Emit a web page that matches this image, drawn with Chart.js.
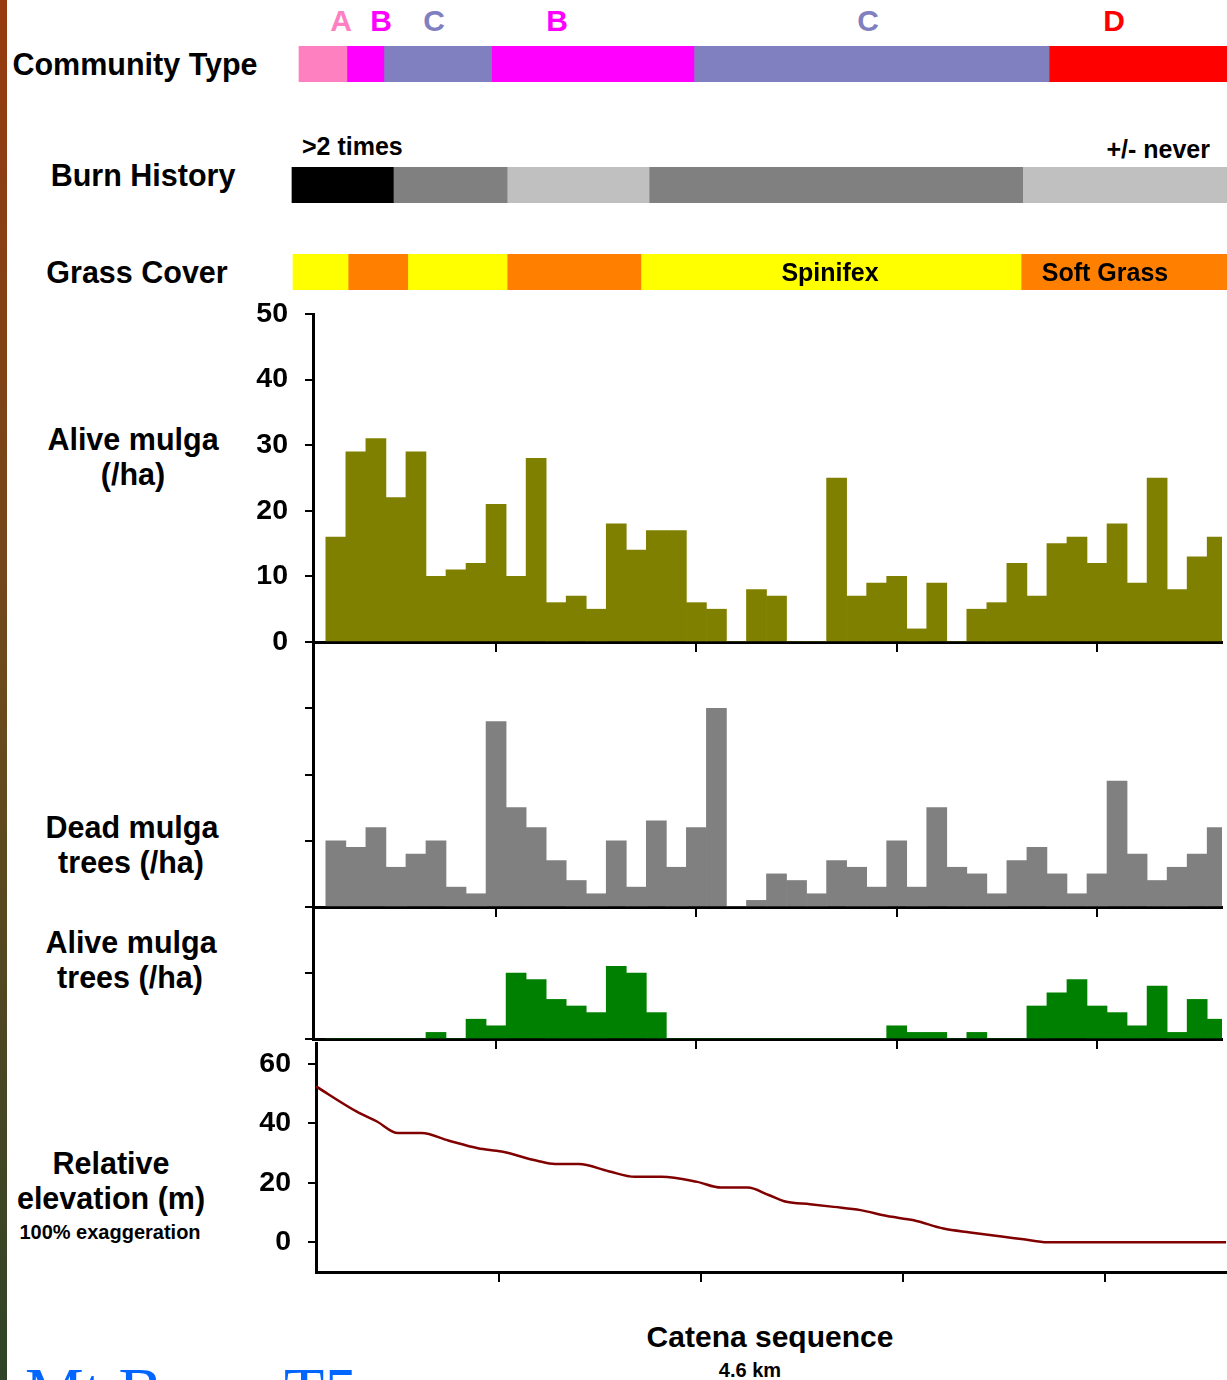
<!DOCTYPE html>
<html>
<head>
<meta charset="utf-8">
<title>Catena sequence</title>
<script src="https://cdn.jsdelivr.net/npm/chart.js@4.4.1/dist/chart.umd.min.js"></script>
<style>
    body { margin: 0; background: #fff; }
    #page {
        position: relative; width: 1227px; height: 1380px; overflow: hidden;
        font-family: 'Liberation Sans', Arial, sans-serif; font-weight: bold; color: #000;
    }
    #page canvas { position: absolute; left: 0; }
    .edge {
        position: absolute; left: 0; top: 0; width: 7px; height: 1380px;
        background: linear-gradient(#973a0f, #6b4a1c 50%, #2e4427);
    }
    .t { position: absolute; white-space: nowrap; line-height: 1; transform: translate(-50%, -50%); }
    .l { transform: translate(0, -50%); }
    .r { transform: translate(-100%, -50%); }
    .site {
        position: absolute; left: 25px; top: 1358px; line-height: 1; white-space: nowrap;
        font-family: 'Liberation Serif', 'Times New Roman', serif; font-weight: normal;
        font-size: 66px; color: #0066ff;
    }
</style>
</head>
<body>
<div id="page">
    <div class="edge"></div>

    <div class="t" style="left:341px;top:21px;font-size:30px;color:#ff80c0">A</div>
    <div class="t" style="left:381px;top:21px;font-size:30px;color:#ff00ff">B</div>
    <div class="t" style="left:434px;top:21px;font-size:30px;color:#8080c0">C</div>
    <div class="t" style="left:557px;top:21px;font-size:30px;color:#ff00ff">B</div>
    <div class="t" style="left:868px;top:21px;font-size:30px;color:#8080c0">C</div>
    <div class="t" style="left:1114px;top:21px;font-size:30px;color:#ff0000">D</div>

    <div class="t" style="left:135px;top:64px;font-size:30.5px">Community Type</div>
    <div class="t" style="left:143px;top:175px;font-size:30.5px">Burn History</div>
    <div class="t" style="left:137px;top:272px;font-size:30.5px">Grass Cover</div>
    <div class="t l" style="left:302px;top:146px;font-size:25px">&gt;2 times</div>
    <div class="t r" style="left:1210px;top:149px;font-size:25px">+/- never</div>

    <canvas id="community" width="1227" height="36" style="top:46px"></canvas>
    <canvas id="burn" width="1227" height="36" style="top:167px"></canvas>
    <canvas id="grass" width="1227" height="36" style="top:254px"></canvas>

    <div class="t" style="left:830px;top:272px;font-size:25px">Spinifex</div>
    <div class="t" style="left:1105px;top:272px;font-size:25px">Soft Grass</div>

    <div class="t" style="left:133px;top:439px;font-size:30.5px">Alive mulga</div>
    <div class="t" style="left:133px;top:474px;font-size:30.5px">(/ha)</div>
    <div class="t" style="left:132px;top:827px;font-size:30.5px">Dead mulga</div>
    <div class="t" style="left:131px;top:862px;font-size:30.5px">trees (/ha)</div>
    <div class="t" style="left:131px;top:942px;font-size:30.5px">Alive mulga</div>
    <div class="t" style="left:130px;top:977px;font-size:30.5px">trees (/ha)</div>
    <div class="t" style="left:111px;top:1163px;font-size:30.5px">Relative</div>
    <div class="t" style="left:111px;top:1198px;font-size:30.5px">elevation (m)</div>
    <div class="t" style="left:110px;top:1232px;font-size:20px">100% exaggeration</div>

    <canvas id="alive" width="1227" height="370" style="top:290px"></canvas>
    <canvas id="dead" width="1227" height="295" style="top:630px"></canvas>
    <canvas id="trees" width="1227" height="162" style="top:895px"></canvas>
    <canvas id="elev" width="1227" height="270" style="top:1020px"></canvas>

    <div class="t" style="left:770px;top:1337px;font-size:30px">Catena sequence</div>
    <div class="t" style="left:750px;top:1370px;font-size:20px">4.6 km</div>
    <div class="site">Mt Barry T5</div>
</div>

<script>
// band segments, edges in km along the transect
const communityEdges = [0.016, 0.255, 0.44, 0.977, 1.988, 3.761, 4.65]
const communityColors = ['#ff80c0', '#ff00ff', '#8080c0', '#ff00ff', '#8080c0', '#ff0000']
const burnEdges = [-0.019, 0.487, 1.055, 1.764, 3.629, 4.65]
const burnColors = ['#000000', '#808080', '#c0c0c0', '#808080', '#c0c0c0']
const grassEdges = [-0.014, 0.261, 0.559, 1.055, 1.723, 3.621, 4.65]
const grassColors = ['#ffff00', '#ff8000', '#ffff00', '#ff8000', '#ffff00', '#ff8000']

// plot centres (km)
const plotKm = [
    0.2, 0.3, 0.4, 0.5, 0.6, 0.7, 0.8, 0.9, 1.0, 1.1,
    1.2, 1.3, 1.4, 1.5, 1.6, 1.7, 1.8, 1.9, 2.0, 2.1,
    2.2, 2.3, 2.4, 2.5, 2.6, 2.7, 2.8, 2.9, 3.0, 3.1,
    3.2, 3.3, 3.4, 3.5, 3.6, 3.7, 3.8, 3.9, 4.0, 4.1,
    4.2, 4.3, 4.4, 4.5, 4.6,
]
const aliveMulga = [
    16, 29, 31, 22, 29, 10, 11, 12, 21, 10,
    28, 6, 7, 5, 18, 14, 17, 17, 6, 5,
    0, 8, 7, 0, 0, 25, 7, 9, 10, 2,
    9, 0, 5, 6, 12, 7, 15, 16, 12, 18,
    9, 25, 8, 13, 16,
]
const deadMulga = [
    10, 9, 12, 6, 8, 10, 3, 2, 28, 15,
    12, 7, 4, 2, 10, 3, 13, 6, 12, 30,
    0, 1, 5, 4, 2, 7, 6, 3, 10, 3,
    15, 6, 5, 2, 7, 9, 5, 2, 5, 19,
    8, 4, 6, 8, 12,
]
const aliveTrees = [
    0, 0, 0, 0, 0, 1, 0, 3, 2, 10,
    9, 6, 5, 4, 11, 10, 4, 0, 0, 0,
    0, 0, 0, 0, 0, 0, 0, 0, 2, 1,
    1, 0, 1, 0, 0, 5, 7, 9, 5, 4,
    2, 8, 1, 6, 3,
]

// relative elevation profile
const elevKm = [
    0.094, 0.294, 0.396, 0.5, 0.617, 0.749, 0.896, 1.013, 1.189, 1.277,
    1.395, 1.542, 1.673, 1.806, 1.982, 2.099, 2.232, 2.335, 2.423, 2.54,
    2.658, 2.79, 2.922, 3.054, 3.201, 3.333, 3.48, 3.598, 3.715, 4.6,
]
const elevM = [
    52.4, 44, 40.6, 36.7, 36.7, 34.2, 31.6, 30.5, 27.4, 26.3,
    26.3, 23.9, 22, 22, 20.3, 18.4, 18.4, 15.9, 13.6, 12.8,
    11.9, 10.8, 8.8, 7.4, 4.6, 3.3, 2.0, 1.0, 0, 0,
]

const kmTicks = [1, 2, 3, 4]

Chart.defaults.font.family = "'Liberation Sans', Arial, sans-serif"
Chart.defaults.color = '#000'

const baseOptions = {
    responsive: false,
    animation: false,
    events: [],
    plugins: { legend: { display: false }, tooltip: { enabled: false } },
}

// drop the label padding chart.js adds so the chart area sits where we put it
function noPad(s) {
    s.paddingTop = 0
    s.paddingBottom = 0
    s.paddingLeft = 0
    s.paddingRight = 0
}

function makeBand(id, edges, colors) {
    const datasets = colors.map(function (c, i) {
        return {
            data: [[edges[i], edges[i + 1]]],
            backgroundColor: c,
            borderWidth: 0,
            grouped: false,
            barPercentage: 1,
            categoryPercentage: 1,
        }
    })
    return new Chart(document.getElementById(id), {
        type: 'bar',
        data: { labels: [''], datasets: datasets },
        options: Object.assign({}, baseOptions, {
            indexAxis: 'y',
            layout: { padding: 0 },
            scales: {
                x: { type: 'linear', min: -1.4767, max: 4.6492, display: false },
                y: { display: false },
            },
        }),
    })
}

function yAxis(min, max, ticks, labels, width) {
    return {
        min: min,
        max: max,
        afterFit: function (s) {
            s.width = width
            noPad(s)
        },
        afterBuildTicks: function (s) { s.ticks = ticks.map(function (v) { return { value: v } }) },
        ticks: {
            display: labels,
            color: '#000',
            padding: 17,
            font: { size: 28.5, weight: 'bold' },
        },
        grid: { drawOnChartArea: false, drawTicks: true, tickLength: 8, color: '#000', lineWidth: 2 },
        border: { display: true, color: '#000', width: 3 },
    }
}

function xAxis(min, max) {
    return {
        type: 'linear',
        min: min,
        max: max,
        offset: false,
        afterFit: function (s) {
            s.height = 18
            noPad(s)
        },
        afterBuildTicks: function (s) { s.ticks = kmTicks.map(function (v) { return { value: v } }) },
        ticks: { display: false },
        grid: { offset: false, drawOnChartArea: false, drawTicks: true, tickLength: 10, color: '#000', lineWidth: 2 },
        border: { display: true, color: '#000', width: 3 },
    }
}

function makeBars(id, values, color, yMax, ticks, labels, padTop) {
    return new Chart(document.getElementById(id), {
        type: 'bar',
        data: {
            datasets: [
                {
                    data: values.map(function (v, i) { return { x: plotKm[i], y: v } }),
                    backgroundColor: color,
                    borderWidth: 0,
                    barPercentage: 1,
                    categoryPercentage: 1,
                },
            ],
        },
        options: Object.assign({}, baseOptions, {
            layout: { padding: { top: padTop, right: 5, left: 0, bottom: 0 } },
            scales: {
                x: xAxis(0.086, 4.624),
                y: yAxis(0, yMax, ticks, labels, 313),
            },
        }),
    })
}

makeBand('community', communityEdges, communityColors)
makeBand('burn', burnEdges, burnColors)
makeBand('grass', grassEdges, grassColors)

makeBars('alive', aliveMulga, '#808000', 50, [0, 10, 20, 30, 40, 50], true, 24)
makeBars('dead', deadMulga, '#808080', 40, [0, 10, 20, 30], false, 12)
makeBars('trees', aliveTrees, '#008000', 20, [0, 10], false, 12)

new Chart(document.getElementById('elev'), {
    type: 'line',
    data: {
        datasets: [
            {
                data: elevM.map(function (v, i) { return { x: elevKm[i], y: v } }),
                borderColor: '#800000',
                borderWidth: 2.5,
                pointRadius: 0,
                cubicInterpolationMode: 'monotone',
                fill: false,
            },
        ],
    },
    options: Object.assign({}, baseOptions, {
        layout: { padding: { top: 23, right: 1, left: 0, bottom: 0 } },
        scales: {
            x: xAxis(0.094, 4.6),
            y: yAxis(-10, 67, [0, 20, 40, 60], true, 316),
        },
    }),
})
</script>
</body>
</html>
